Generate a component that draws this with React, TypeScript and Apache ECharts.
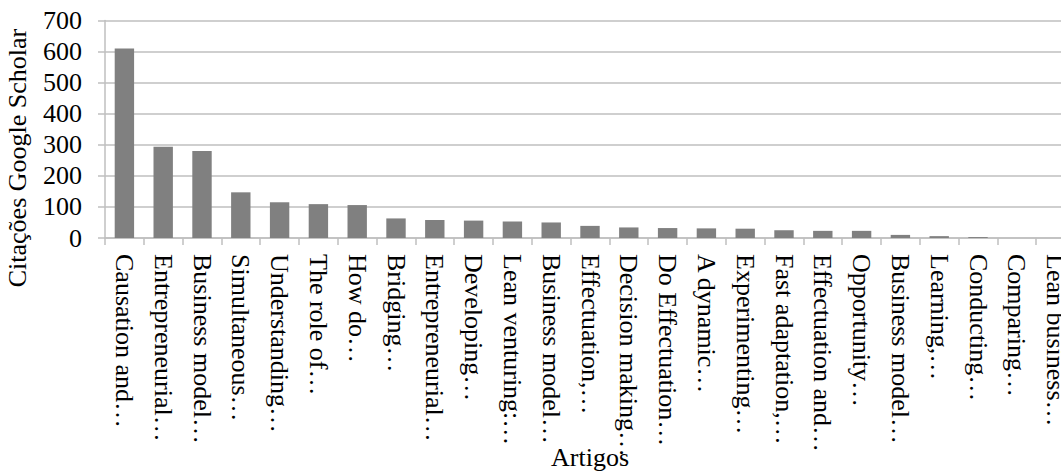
import React, { useEffect, useRef } from "react";
import * as echarts from "echarts";

const categories: string[] = [
  "Causation and…",
  "Entrepreneurial…",
  "Business model…",
  "Simultaneous…",
  "Understanding…",
  "The role of…",
  "How do…",
  "Bridging…",
  "Entrepreneurial…",
  "Developing…",
  "Lean venturing:…",
  "Business model…",
  "Effectuation,…",
  "Decision making…",
  "Do Effectuation…",
  "A dynamic…",
  "Experimenting…",
  "Fast adaptation,…",
  "Effectuation and…",
  "Opportunity…",
  "Business model…",
  "Learning,…",
  "Conducting…",
  "Comparing…",
  "Lean business…",
];

const citations: number[] = [
  610, 294, 280, 147, 115, 109, 106, 63, 58, 56, 53, 50, 39, 34, 32, 31, 30, 25,
  23, 23, 10, 6, 3, 0, 0,
];

const yTicks = { min: 0, max: 700, interval: 100 };
const yTitle = "Citações Google Scholar";
const xTitle = "Artigos";

const FONT = '"Liberation Serif", "Times New Roman", serif';

export default function App() {
  const ref = useRef<HTMLDivElement>(null);

  useEffect(() => {
    if (!ref.current) return;
    const chart = echarts.init(ref.current, undefined, { renderer: "svg" });
    chart.setOption({
      animation: false,
      backgroundColor: "#ffffff",
      grid: {
        left: 105,
        top: 20.5,
        width: 970,
        height: 217.5,
        containLabel: false,
        outerBoundsMode: "none",
      },
      graphic: [
        {
          type: "text",
          x: 17,
          y: 158,
          rotation: Math.PI / 2,
          style: {
            text: yTitle,
            fontFamily: FONT,
            fontSize: 26,
            fill: "#000",
            align: "center",
            verticalAlign: "middle",
          },
        },
      ],
      xAxis: {
        type: "category",
        data: categories,
        name: xTitle,
        nameLocation: "middle",
        nameGap: 206,
        nameMoveOverlap: false,
        nameTextStyle: { fontFamily: FONT, fontSize: 26, color: "#000" },
        axisLine: { show: true, lineStyle: { color: "#bfbfbf", width: 1.5 } },
        axisTick: { show: true, alignWithLabel: false, length: 7, lineStyle: { color: "#bfbfbf", width: 1.5 } },
        axisLabel: {
          rotate: -90,
          interval: 0,
          margin: 16,
          padding: [6, 0, 0, 0],
          fontFamily: FONT,
          fontSize: 26,
          color: "#000",
        },
      },
      yAxis: {
        type: "value",
        min: yTicks.min,
        max: yTicks.max,
        interval: yTicks.interval,
        axisLine: { show: true, lineStyle: { color: "#bfbfbf", width: 1.5 } },
        axisTick: { show: true, length: 7, lineStyle: { color: "#bfbfbf", width: 1.5 } },
        axisLabel: { margin: 23, fontFamily: FONT, fontSize: 26, color: "#000" },
        splitLine: { show: true, lineStyle: { color: "#bfbfbf", width: 1.5 } },
      },
      series: [
        {
          type: "bar",
          data: citations,
          barWidth: "50%",
          itemStyle: { color: "#808080" },
        },
      ],
    });
    return () => chart.dispose();
  }, []);

  return <div ref={ref} style={{ width: 1061, height: 474, position: "absolute", left: 0, top: 0 }} />;
}
